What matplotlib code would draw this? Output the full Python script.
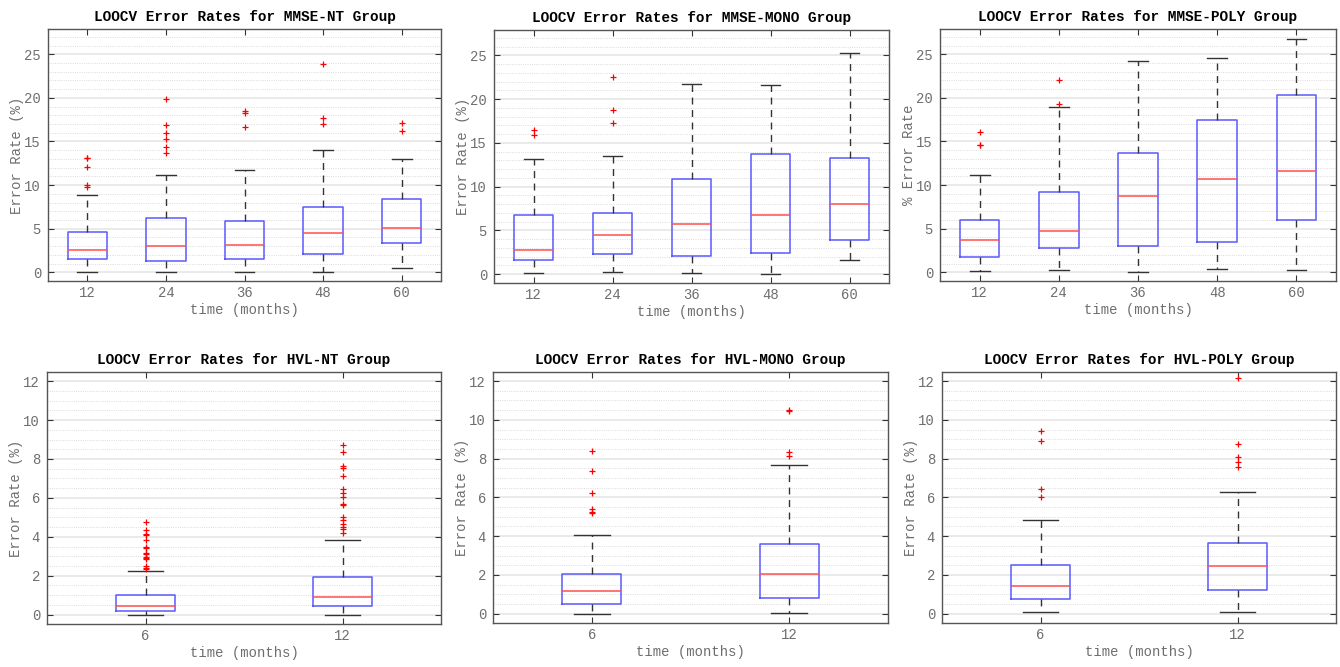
import numpy as np
import matplotlib.pyplot as plt
from matplotlib.ticker import MultipleLocator

plt.rcParams['font.family'] = ['Liberation Mono', 'DejaVu Sans Mono']

# box statistics: whisker low, Q1, median, Q3, whisker high
mmse_months = ['12', '24', '36', '48', '60']
hvl_months = ['6', '12']

mmse_nt_lo = [0.08, 0.04, 0.0, 0.0, 0.46]
mmse_nt_q1 = [1.57, 1.34, 1.57, 2.14, 3.36]
mmse_nt_med = [2.56, 2.98, 3.17, 4.51, 5.05]
mmse_nt_q3 = [4.59, 6.27, 5.85, 7.53, 8.45]
mmse_nt_hi = [8.83, 11.16, 11.74, 13.99, 12.96]
mmse_nt_out = [[13.1, 13.05, 12.08, 10.0, 9.75],
               [19.84, 16.93, 15.94, 15.25, 14.41, 13.69],
               [18.5, 18.3, 16.63],
               [23.85, 17.66, 16.97],
               [17.09, 16.17]]

mmse_mono_lo = [0.11, 0.23, 0.11, 0.04, 1.6]
mmse_mono_q1 = [1.64, 2.29, 2.06, 2.4, 3.93]
mmse_mono_med = [2.82, 4.54, 5.79, 6.78, 8.0]
mmse_mono_q3 = [6.82, 6.97, 10.9, 13.68, 13.3]
mmse_mono_hi = [13.11, 13.49, 21.68, 21.65, 25.3]
mmse_mono_out = [[16.5, 15.89], [22.52, 18.71, 17.26], [], [], []]

mmse_poly_lo = [0.11, 0.3, 0.0, 0.34, 0.27]
mmse_poly_q1 = [1.75, 2.78, 2.97, 3.5, 6.05]
mmse_poly_med = [3.65, 4.76, 8.71, 10.65, 11.6]
mmse_poly_q3 = [5.94, 9.25, 13.66, 17.5, 20.28]
mmse_poly_hi = [11.19, 18.91, 24.2, 24.54, 26.79]
mmse_poly_out = [[16.1, 14.65, 14.54], [22.03, 19.29], [], [], []]

hvl_nt_lo = [0.0, 0.0]
hvl_nt_q1 = [0.21, 0.43]
hvl_nt_med = [0.45, 0.89]
hvl_nt_q3 = [1.03, 1.92]
hvl_nt_hi = [2.25, 3.82]
hvl_nt_out = [[4.75, 4.35, 4.15, 4.1, 3.82, 3.5, 3.4, 3.19, 3.1, 2.98, 2.9,
               2.85, 2.5, 2.4, 2.33],
              [8.71, 8.35, 7.65, 7.53, 7.15, 6.46, 6.24, 6.03, 5.71, 5.66,
               5.04, 4.87, 4.66, 4.49, 4.41, 4.22]]

hvl_mono_lo = [0.0, 0.02]
hvl_mono_q1 = [0.48, 0.81]
hvl_mono_med = [1.19, 2.05]
hvl_mono_q3 = [2.07, 3.62]
hvl_mono_hi = [4.08, 7.66]
hvl_mono_out = [[8.38, 7.37, 6.23, 5.42, 5.25, 5.22], [10.49, 10.45, 8.32, 8.16]]

hvl_poly_lo = [0.09, 0.09]
hvl_poly_q1 = [0.74, 1.22]
hvl_poly_med = [1.41, 2.45]
hvl_poly_q3 = [2.49, 3.67]
hvl_poly_hi = [4.81, 6.27]
hvl_poly_out = [[9.41, 8.93, 6.42, 6.04], [12.14, 8.74, 8.07, 7.81, 7.55]]


def make_stats(lo, q1, med, q3, hi, out):
    return [dict(whislo=a, q1=b, med=c, q3=d, whishi=e, fliers=f)
            for a, b, c, d, e, f in zip(lo, q1, med, q3, hi, out)]


panels = [
    ('MMSE-NT', mmse_months, make_stats(mmse_nt_lo, mmse_nt_q1, mmse_nt_med, mmse_nt_q3, mmse_nt_hi, mmse_nt_out), 'Error Rate (%)'),
    ('MMSE-MONO', mmse_months, make_stats(mmse_mono_lo, mmse_mono_q1, mmse_mono_med, mmse_mono_q3, mmse_mono_hi, mmse_mono_out), 'Error Rate (%)'),
    ('MMSE-POLY', mmse_months, make_stats(mmse_poly_lo, mmse_poly_q1, mmse_poly_med, mmse_poly_q3, mmse_poly_hi, mmse_poly_out), '% Error Rate'),
    ('HVL-NT', hvl_months, make_stats(hvl_nt_lo, hvl_nt_q1, hvl_nt_med, hvl_nt_q3, hvl_nt_hi, hvl_nt_out), 'Error Rate (%)'),
    ('HVL-MONO', hvl_months, make_stats(hvl_mono_lo, hvl_mono_q1, hvl_mono_med, hvl_mono_q3, hvl_mono_hi, hvl_mono_out), 'Error Rate (%)'),
    ('HVL-POLY', hvl_months, make_stats(hvl_poly_lo, hvl_poly_q1, hvl_poly_med, hvl_poly_q3, hvl_poly_hi, hvl_poly_out), 'Error Rate (%)'),
]

# axes rectangles in pixels: left, top, right, bottom
W, H = 1340, 667
rects = [(48, 29, 441, 281), (494, 30, 889, 283), (940, 29, 1336, 281),
         (47, 372, 441, 624), (493, 372, 888, 623), (942, 372, 1336, 623)]

grey = '#6e6e6e'
fig = plt.figure(figsize=(13.4, 6.67), dpi=100)

for (name, labels, stats, ylab), (l, t, r, b) in zip(panels, rects):
    ax = fig.add_axes([l / W, 1 - b / H, (r - l) / W, (b - t) / H])
    n = len(labels)
    wide = 0.5 if n > 2 else 0.3
    caps = 0.25 if n > 2 else 0.18
    ax.bxp(stats, positions=range(1, n + 1), widths=wide, capwidths=caps,
           boxprops=dict(color='#5a5aff', lw=1.1),
           medianprops=dict(color='#ff5050', lw=1.1),
           whiskerprops=dict(color='#333333', lw=1, ls=(0, (5, 4))),
           capprops=dict(color='#333333', lw=1),
           flierprops=dict(marker='+', markeredgecolor='red', markersize=5, mew=0.9))
    ax.set_xlim(0.5, n + 0.5)
    if n > 2:
        ax.set_ylim(-1, 27.9)
        ax.yaxis.set_major_locator(MultipleLocator(5))
        ax.yaxis.set_minor_locator(MultipleLocator(1))
    else:
        ax.set_ylim(-0.48, 12.47)
        ax.yaxis.set_major_locator(MultipleLocator(2))
        ax.yaxis.set_minor_locator(MultipleLocator(0.5))
    ax.set_xticks(range(1, n + 1))
    ax.set_xticklabels(labels)
    ax.grid(True, which='major', axis='y', color='#e6e6e6', lw=1.2)
    ax.grid(True, which='minor', axis='y', color='#cfcfcf', lw=0.6, ls=':')
    ax.set_axisbelow(True)
    ax.tick_params(which='major', direction='in', top=True, right=True, length=4,
                   color='#333333', labelcolor=grey, labelsize=10)
    ax.tick_params(axis='y', pad=5)
    ax.tick_params(which='minor', length=0)
    for s in ax.spines.values():
        s.set_color('#555555')
        s.set_linewidth(1)
    ax.set_title('LOOCV Error Rates for %s Group' % name, fontsize=10.4,
                 fontweight='bold', pad=6)
    ax.set_xlabel('time (months)', color=grey, fontsize=10, labelpad=2)
    ax.set_ylabel(ylab, color=grey, fontsize=10, labelpad=0)

fig.savefig('out.png', dpi=100)
